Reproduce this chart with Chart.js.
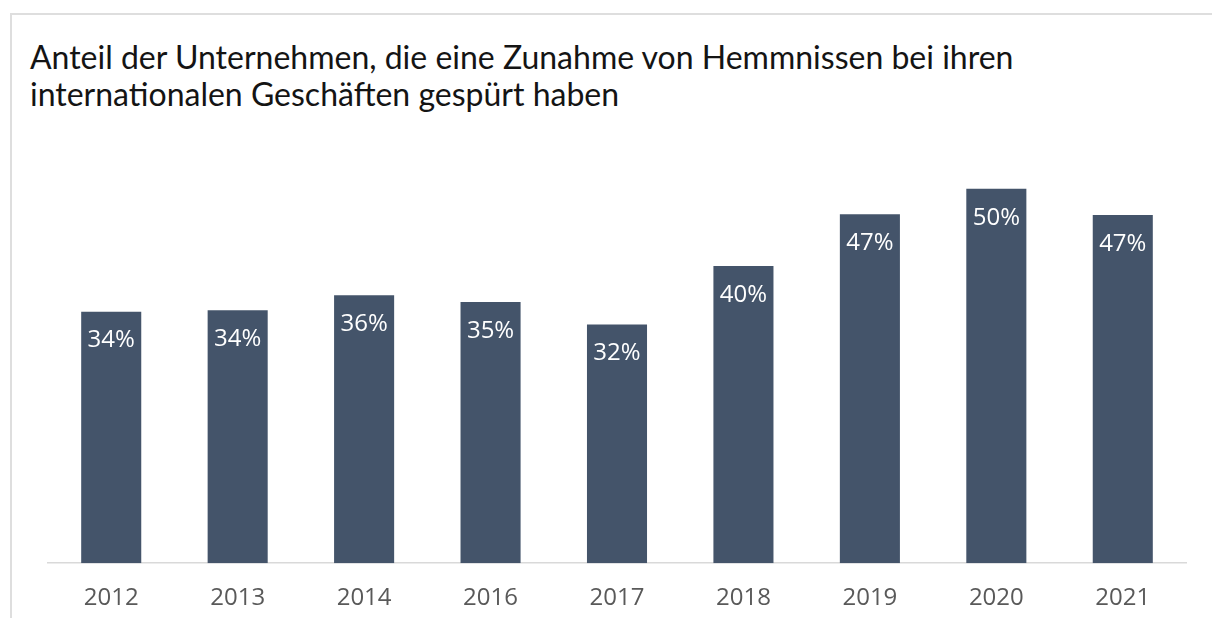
<!DOCTYPE html>
<html>
<head>
<meta charset="utf-8">
<script src="https://cdn.jsdelivr.net/npm/chart.js@4"></script>
<style>
  html, body { margin: 0; padding: 0; background: #fff; overflow: hidden; }
  #frame {
    position: absolute; left: 10px; top: 13px; width: 1300px; height: 700px;
    border-top: 2px solid #dedede; border-left: 2px solid #dedede;
  }
  #title {
    position: absolute; left: 30px; top: 38px;
    font-family: "Lato"; font-size: 32px; line-height: 37px; color: #141414;
  }
  #wrap { position: absolute; left: 0; top: 114px; width: 1212px; height: 520px; }
</style>
</head>
<body>
<div id="frame"></div>
<div id="title">Anteil der Unternehmen, die eine Zunahme von Hemmnissen bei ihren<br>internationalen Geschäften gespürt haben</div>
<div id="wrap"><canvas id="chart"></canvas></div>
<script>
const years = ["2012", "2013", "2014", "2016", "2017", "2018", "2019", "2020", "2021"];
const shares = [33.6, 33.8, 35.8, 34.9, 31.9, 39.7, 46.6, 50, 46.5];

// white % labels inside the top of each bar
const barLabels = {
  id: 'barLabels',
  afterDatasetsDraw(chart) {
    const ctx = chart.ctx;
    const meta = chart.getDatasetMeta(0);
    ctx.save();
    ctx.fillStyle = '#ffffff';
    ctx.font = '24px "Open Sans"';
    ctx.textAlign = 'center';
    ctx.textBaseline = 'middle';
    meta.data.forEach((bar, i) => {
      ctx.fillText(Math.round(shares[i]) + '%', bar.x, bar.y + 29);
    });
    ctx.restore();
  }
};

new Chart(document.getElementById("chart"), {
  type: 'bar',
  data: {
    labels: years,
    datasets: [{
      data: shares,
      backgroundColor: '#44546a',
      barPercentage: 0.475,
      categoryPercentage: 1
    }]
  },
  options: {
    responsive: true,
    maintainAspectRatio: false,
    animation: false,
    layout: { padding: { left: 48, right: 26, top: 0, bottom: 0 } },
    plugins: { legend: { display: false }, tooltip: { enabled: false } },
    scales: {
      x: {
        grid: { display: false, drawTicks: false, tickLength: 0 },
        border: { display: true, color: '#d9d9d9', width: 1.5 },
        ticks: { color: '#595959', font: { family: 'Open Sans', size: 24 }, padding: 21 }
      },
      y: { display: false, min: 0, max: 60 }
    }
  },
  plugins: [barLabels]
});
</script>
</body>
</html>
